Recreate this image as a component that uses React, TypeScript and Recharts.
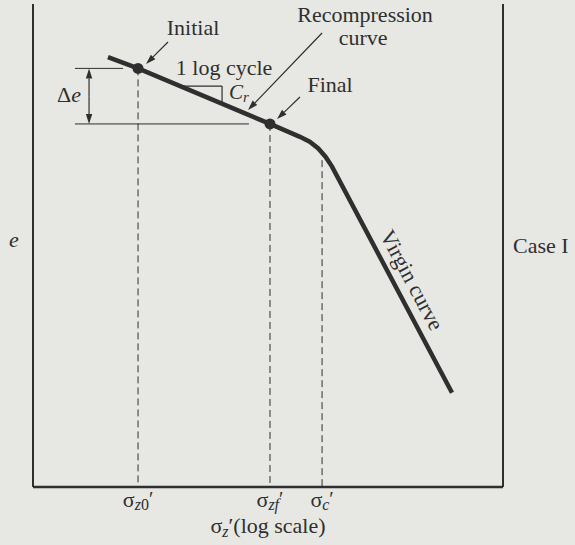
import React from "react";
import { ComposedChart, Line, XAxis, YAxis, ReferenceLine, ReferenceDot } from "recharts";

const FONT = '"Liberation Serif", "Times New Roman", serif';
const INK = "#2f2f2f";
const BG = "#e7e7e3";

// e - log sigma' curve (x in log cycles, y = void ratio)
const logStress = [0.638, 0.894, 2.017, 2.272, 2.355, 2.428, 2.491, 2.545, 3.566];
const voidRatio = [0.934, 0.920, 0.851, 0.835, 0.829, 0.8205, 0.810, 0.798, 0.517];

// marked states on the curve
const stateX = [0.894, 2.017];
const stateE = [0.920, 0.851];

// stress ticks under the axis
const stressTicks = [0.894, 2.017, 2.46];
const tickSubs = [["z", "0"], ["zf", ""], ["c", ""]];
const preconE = 0.806;

// delta e bracket
const deltaLeft = 0.357;
const deltaTopRight = 0.766;
const deltaBottomRight = 1.838;
const deltaArrowX = 0.477;

// slope triangle
const triX = [1.277, 1.609];
const triE = [0.898, 0.878];

// annotation texts
const noteText = ["Initial", "Recompression", "curve", "1 log cycle", "Final"];
const noteX = [1.362, 2.826, 2.809, 1.626, 2.528];
const noteE = [0.9615, 0.9776, 0.9491, 0.9115, 0.8907];

// leader arrows (from -> to)
const arrowFromX = [1.149, 2.46, 2.272];
const arrowFromE = [0.9528, 0.964, 0.8845];
const arrowToX = [0.962, 1.83, 2.077];
const arrowToE = [0.9255, 0.8683, 0.8571];

const curve = logStress.map((x, i) => ({ logS: x, e: voidRatio[i] }));

const arrowLine = (props: any) => {
  const { x1, y1, x2, y2 } = props;
  const ang = Math.atan2(y2 - y1, x2 - x1);
  const len = 10;
  const w = 3.2;
  const bx = x2 - len * Math.cos(ang);
  const by = y2 - len * Math.sin(ang);
  const px = -Math.sin(ang) * w;
  const py = Math.cos(ang) * w;
  return (
    <g>
      <line x1={x1} y1={y1} x2={bx} y2={by} stroke={INK} strokeWidth={1.2} />
      <polygon points={`${x2},${y2} ${bx + px},${by + py} ${bx - px},${by - py}`} fill={INK} />
    </g>
  );
};

const StressTick = (props: any) => {
  const { x, y, payload } = props;
  const i = stressTicks.indexOf(payload.value);
  const [sub, sub2] = tickSubs[i] || ["", ""];
  return (
    <text x={x} y={y + 20} textAnchor="middle" fontFamily={FONT} fontSize={22} fill={INK}>
      σ
      <tspan fontStyle="italic" fontSize={16} dy={3}>{sub}</tspan>
      {sub2 ? <tspan fontSize={16}>{sub2}</tspan> : null}
      <tspan fontSize={20} dy={-4}>′</tspan>
    </text>
  );
};

const XTitle = (props: any) => {
  const { viewBox } = props;
  const cx = viewBox.x + viewBox.width / 2;
  return (
    <text x={cx} y={viewBox.y + 46} textAnchor="middle" fontFamily={FONT} fontSize={22} fill={INK}>
      σ<tspan fontStyle="italic" fontSize={16} dy={4}>z</tspan>
      <tspan dy={-4}>′(log scale)</tspan>
    </text>
  );
};

const LeftTitle = (props: any) => {
  const { viewBox } = props;
  return (
    <text x={14} y={viewBox.y + viewBox.height / 2 + 1} textAnchor="middle" fontFamily={FONT} fontStyle="italic" fontSize={22} fill={INK}>
      e
    </text>
  );
};

const RightTitle = (props: any) => {
  const { viewBox } = props;
  return (
    <text x={viewBox.x + 10} y={viewBox.y + viewBox.height / 2 + 7} fontFamily={FONT} fontSize={22} fill={INK}>
      Case I
    </text>
  );
};

const App = () => {
  return (
    <div style={{ position: "fixed", left: 0, top: 0, width: 575, height: 545, background: BG }}>
      <ComposedChart width={575} height={545} data={curve} margin={{ top: 4, right: 0, left: 0, bottom: 0 }}>
        <XAxis
          type="number"
          dataKey="logS"
          domain={[0, 4]}
          ticks={stressTicks}
          tick={<StressTick />}
          tickLine={false}
          tickSize={0}
          tickMargin={0}
          height={58}
          stroke={INK}
          strokeWidth={2.5}
          label={<XTitle />}
          allowDataOverflow
        />
        <YAxis
          yAxisId="left"
          domain={[0.4, 1.0]}
          width={33}
          tick={false}
          tickLine={false}
          stroke={INK}
          strokeWidth={2}
          label={<LeftTitle />}
          allowDataOverflow
        />
        <YAxis
          yAxisId="right"
          orientation="right"
          domain={[0.4, 1.0]}
          width={72}
          tick={false}
          tickLine={false}
          stroke={INK}
          strokeWidth={2}
          label={<RightTitle />}
        />

        {/* dashed drops to the stress axis */}
        {stressTicks.map((x, i) => (
          <ReferenceLine
            key={`drop-${i}`}
            yAxisId="left"
            segment={[{ x, y: i < 2 ? stateE[i] : preconE }, { x, y: 0.4 }]}
            stroke={INK}
            strokeWidth={1}
            strokeDasharray="7 4"
          />
        ))}

        {/* delta e bracket */}
        <ReferenceLine yAxisId="left" segment={[{ x: deltaLeft, y: stateE[0] }, { x: deltaTopRight, y: stateE[0] }]} stroke={INK} strokeWidth={1} />
        <ReferenceLine yAxisId="left" segment={[{ x: deltaLeft, y: stateE[1] }, { x: deltaBottomRight, y: stateE[1] }]} stroke={INK} strokeWidth={1} />
        <ReferenceLine
          yAxisId="left"
          segment={[{ x: deltaArrowX, y: (stateE[0] + stateE[1]) / 2 }, { x: deltaArrowX, y: stateE[0] }]}
          shape={arrowLine}
        />
        <ReferenceLine
          yAxisId="left"
          segment={[{ x: deltaArrowX, y: (stateE[0] + stateE[1]) / 2 }, { x: deltaArrowX, y: stateE[1] }]}
          shape={arrowLine}
        />

        {/* slope triangle */}
        <ReferenceLine yAxisId="left" segment={[{ x: triX[0], y: triE[0] }, { x: triX[1], y: triE[0] }]} stroke={INK} strokeWidth={1.2} />
        <ReferenceLine yAxisId="left" segment={[{ x: triX[1], y: triE[0] }, { x: triX[1], y: triE[1] }]} stroke={INK} strokeWidth={1.2} />

        {/* leader arrows */}
        {arrowFromX.map((x, i) => (
          <ReferenceLine
            key={`arrow-${i}`}
            yAxisId="left"
            segment={[{ x, y: arrowFromE[i] }, { x: arrowToX[i], y: arrowToE[i] }]}
            shape={arrowLine}
          />
        ))}

        <Line
          yAxisId="left"
          dataKey="e"
          type="linear"
          stroke={INK}
          strokeWidth={4.5}
          dot={false}
          activeDot={false}
          isAnimationActive={false}
        />

        {stateX.map((x, i) => (
          <ReferenceDot key={`state-${i}`} yAxisId="left" x={x} y={stateE[i]} r={5.5} fill={INK} stroke="none" />
        ))}

        {noteText.map((t, i) => (
          <ReferenceDot
            key={`note-${i}`}
            yAxisId="left"
            x={noteX[i]}
            y={noteE[i]}
            r={0}
            shape={(p: any) => (
              <text x={p.cx} y={p.cy} textAnchor="middle" fontFamily={FONT} fontSize={22} fill={INK}>
                {t}
              </text>
            )}
          />
        ))}

        <ReferenceDot
          yAxisId="left"
          x={1.668}
          y={0.8825}
          r={0}
          shape={(p: any) => (
            <text x={p.cx} y={p.cy} fontFamily={FONT} fontSize={21} fill={INK}>
              <tspan fontStyle="italic">C</tspan>
              <tspan fontStyle="italic" fontSize={15} dy={3}>r</tspan>
            </text>
          )}
        />
        <ReferenceDot
          yAxisId="left"
          x={0.306}
          y={0.8783}
          r={0}
          shape={(p: any) => (
            <text x={p.cx} y={p.cy} textAnchor="middle" fontFamily={FONT} fontSize={22} fill={INK}>
              Δ<tspan fontStyle="italic">e</tspan>
            </text>
          )}
        />
        <ReferenceDot
          yAxisId="left"
          x={3.226}
          y={0.657}
          r={0}
          shape={(p: any) => (
            <text
              x={p.cx}
              y={p.cy}
              textAnchor="middle"
              dominantBaseline="central"
              transform={`rotate(62, ${p.cx}, ${p.cy})`}
              fontFamily={FONT}
              fontSize={22}
              fill={INK}
            >
              Virgin curve
            </text>
          )}
        />
      </ComposedChart>
    </div>
  );
};

export default App;
